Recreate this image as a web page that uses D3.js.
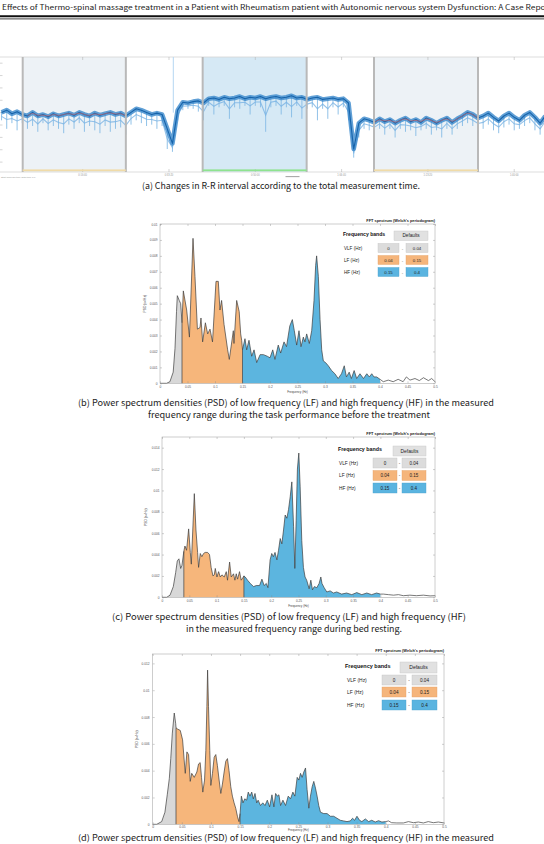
<!DOCTYPE html>
<html><head><meta charset="utf-8">
<script src="https://cdn.jsdelivr.net/npm/d3@7"></script>
<style>body{margin:0;background:#fff}svg{display:block}</style>
</head><body>
<svg id="c" width="544" height="844"></svg>
<script>
// ================= DATA =================
const headerText = "Effects of Thermo-spinal massage treatment in a Patient with Rheumatism patient with Autonomic nervous system Dysfunction: A Case Report";
const captionA = ["(a) Changes in R-R interval according to the total measurement time."];
const captionB = ["(b) Power spectrum densities (PSD) of low frequency (LF) and high frequency (HF) in the measured",
                  "frequency range during the task performance before the treatment"];
const captionC = ["(c) Power spectrum densities (PSD) of low frequency (LF) and high frequency (HF)",
                  "in the measured frequency range during bed resting."];
const captionD = ["(d) Power spectrum densities (PSD) of low frequency (LF) and high frequency (HF) in the measured"];

// Panel (a): R-R interval (ms), one reading per minute
const rrStartTime = 60, rrStep = 60;
const rrCore = [802,820,791,808,785,773,802,773,785,767,791,773,785,796,779,802,785,773,796,779,
  791,802,785,796,773,802,831,820,802,785,796,785,669,552,820,884,878,889,895,878,
  913,918,907,924,913,918,930,913,924,918,930,913,924,930,918,924,936,918,924,907,
  918,924,907,913,918,907,913,878,506,715,750,738,721,750,727,744,715,738,756,727,
  744,721,756,738,715,738,756,721,750,773,802,785,756,773,796,762,733,773,796,762,
  738,779,802,762,715,773];
const rrMin = [738,669,715,657,715,669,692,645,715,657,692,669,634,703,669,715,645,692,657,634,
  692,645,669,680,622,703,738,715,692,703,669,692,506,483,738,820,831,831,808,738,
  855,785,843,855,750,843,831,855,785,855,843,645,843,855,785,843,762,855,750,831,
  843,738,831,750,843,785,843,738,436,599,669,657,645,669,622,669,599,669,645,657,
  611,657,669,622,657,599,669,622,669,692,715,692,669,669,703,657,634,680,703,657,
  669,692,715,657,622,692];
const rrArtifactTime = [2050];
const rrArtifactValue = [1250];
const phaseStart = [305, 2390, 4375];
const phaseEnd = [1500, 3595, 5580];
const phaseKind = ["base", "treat", "base"];
const timeTicks = [1000, 2000, 3000, 4000, 5000, 6000];
const rrTicks = [400, 500, 600, 700, 800, 900, 1000, 1100, 1200];

// Spectra: [frequency Hz, PSD s^2/Hz]
const specB = [[0,0],[0.012,0],[0.018,0.0001],[0.024,0.0007],[0.0273,0.0022],[0.030,0.0045],[0.0315,0.0055],
 [0.035,0.0052],[0.0376,0.0050],[0.04,0.0038],[0.0424,0.0058],[0.0485,0.0046],[0.0535,0.0029],[0.060,0.0091],
 [0.0636,0.0067],[0.068,0.0034],[0.0727,0.0035],[0.0745,0.0041],[0.0775,0.0026],[0.0825,0.0038],[0.0867,0.0031],
 [0.0909,0.0034],[0.0955,0.0026],[0.1018,0.0064],[0.106,0.0064],[0.109,0.0046],[0.112,0.0052],[0.1164,0.0037],
 [0.123,0.0021],[0.126,0.0015],[0.1333,0.0033],[0.1345,0.0025],[0.1394,0.0052],[0.144,0.0045],[0.1467,0.0031],
 [0.1485,0.0027],[0.15,0.0021],[0.1545,0.0028],[0.1576,0.0021],[0.1618,0.0027],[0.1667,0.0017],[0.171,0.0021],
 [0.1758,0.0013],[0.182,0.0018],[0.188,0.0018],[0.195,0.0017],[0.2,0.0016],[0.205,0.0021],[0.209,0.0015],
 [0.215,0.0024],[0.2194,0.0019],[0.2255,0.0026],[0.23,0.0023],[0.236,0.0036],[0.2406,0.0040],[0.2442,0.0033],
 [0.2485,0.0024],[0.2527,0.0033],[0.2564,0.0023],[0.2606,0.0029],[0.2636,0.0026],[0.2667,0.0031],[0.2715,0.0025],
 [0.2758,0.0033],[0.28,0.0052],[0.283,0.0074],[0.2848,0.0080],[0.2879,0.0067],[0.291,0.0040],[0.294,0.0021],
 [0.297,0.0014],[0.301,0.0013],[0.306,0.0011],[0.312,0.0008],[0.318,0.0006],[0.324,0.0003],[0.330,0.0006],
 [0.335,0.0011],[0.339,0.0004],[0.344,0.0007],[0.348,0.0003],[0.353,0.0008],[0.3576,0.0003],[0.3636,0.0006],
 [0.37,0.0003],[0.376,0.0006],[0.3806,0.0004],[0.385,0.0006],[0.389,0.0004],[0.394,0.0004],[0.4,0.00025],
 [0.406,0.0001],[0.415,0.0002],[0.424,0.0001],[0.433,0.00025],[0.442,0.0001],[0.448,0.0004],[0.4545,0.0002],
 [0.4636,0.0003],[0.4715,0.00017],[0.479,0.00035],[0.488,0.00017],[0.494,0.0003],[0.5,0.0001]];
const specC = [[0,0],[0.0086,0],[0.0147,0.0002],[0.0207,0.001],[0.025,0.0023],[0.028,0.0034],[0.031,0.0036],
 [0.0342,0.0027],[0.0366,0.0030],[0.04,0.0043],[0.042,0.0048],[0.045,0.0044],[0.0488,0.0064],[0.0518,0.0042],
 [0.0537,0.0031],[0.0592,0.0097],[0.0622,0.0063],[0.0652,0.0042],[0.067,0.0028],[0.0701,0.0041],[0.073,0.0038],
 [0.0762,0.0041],[0.079,0.0042],[0.0835,0.0042],[0.087,0.0040],[0.090,0.0028],[0.0933,0.0020],[0.0957,0.0021],
 [0.0976,0.0027],[0.1006,0.0019],[0.1037,0.0024],[0.1067,0.0019],[0.1098,0.0021],[0.114,0.0019],[0.1177,0.0024],
 [0.12,0.0016],[0.1238,0.0033],[0.1268,0.0019],[0.131,0.0022],[0.1335,0.0016],[0.136,0.0022],[0.1384,0.0017],
 [0.142,0.0024],[0.145,0.0016],[0.149,0.0019],[0.15,0.0020],[0.1524,0.0019],[0.1567,0.0016],[0.1616,0.0013],
 [0.1677,0.0010],[0.1726,0.0011],[0.1787,0.0011],[0.183,0.0017],[0.187,0.0011],[0.191,0.0013],[0.194,0.0009],
 [0.198,0.0035],[0.201,0.0041],[0.204,0.0038],[0.207,0.0042],[0.2104,0.0035],[0.2134,0.0044],[0.2165,0.0055],
 [0.2195,0.0050],[0.2226,0.0063],[0.2256,0.0077],[0.2287,0.0074],[0.2317,0.0082],[0.2348,0.0094],[0.2378,0.0108],
 [0.241,0.0066],[0.2433,0.0027],[0.2457,0.0072],[0.248,0.0120],[0.2506,0.0135],[0.253,0.0104],[0.256,0.0053],
 [0.259,0.0028],[0.262,0.0019],[0.265,0.0016],[0.2695,0.0008],[0.2726,0.0016],[0.2756,0.0007],[0.279,0.0010],
 [0.2835,0.0009],[0.2878,0.0013],[0.2909,0.0019],[0.293,0.0013],[0.297,0.0009],[0.3018,0.0005],[0.308,0.0006],
 [0.314,0.0004],[0.32,0.0005],[0.329,0.0003],[0.338,0.0004],[0.3476,0.00025],[0.3567,0.00044],[0.366,0.00025],
 [0.375,0.0004],[0.384,0.00025],[0.393,0.0004],[0.4,0.0003],[0.4055,0.0003],[0.4146,0.00025],[0.424,0.0002],
 [0.433,0.00025],[0.442,0.00015],[0.454,0.0002],[0.466,0.00015],[0.4787,0.0002],[0.491,0.00013],[0.5,0.00015]];
const specD = [[0,0],[0.007,0],[0.0154,0.0002],[0.021,0.0009],[0.025,0.0022],[0.0285,0.0034],[0.031,0.0049],
 [0.0337,0.0068],[0.037,0.0083],[0.0395,0.0075],[0.04,0.0072],[0.0428,0.0071],[0.0473,0.0070],[0.0513,0.0063],
 [0.054,0.0048],[0.0559,0.0038],[0.0587,0.0054],[0.0616,0.0052],[0.0644,0.0032],[0.067,0.0038],[0.0713,0.0035],
 [0.0758,0.0039],[0.0787,0.0045],[0.0815,0.0046],[0.0838,0.0035],[0.086,0.0024],[0.089,0.0033],[0.0912,0.0055],
 [0.093,0.0088],[0.0942,0.0115],[0.0958,0.0088],[0.098,0.0055],[0.0998,0.0029],[0.1026,0.0038],[0.1055,0.0050],
 [0.1083,0.0052],[0.111,0.0044],[0.114,0.0033],[0.1169,0.0023],[0.1197,0.0030],[0.1226,0.0039],[0.1254,0.0047],
 [0.1283,0.0049],[0.131,0.0040],[0.134,0.0028],[0.1368,0.0021],[0.1397,0.0016],[0.1425,0.0012],[0.1454,0.0006],
 [0.148,0.0002],[0.15,0.0008],[0.1522,0.0021],[0.155,0.0016],[0.158,0.0019],[0.1613,0.0018],[0.164,0.0024],
 [0.167,0.0021],[0.17,0.0024],[0.1727,0.0019],[0.1756,0.0023],[0.1785,0.0016],[0.181,0.0018],[0.185,0.0014],
 [0.189,0.0016],[0.1927,0.0014],[0.1967,0.0018],[0.2007,0.0013],[0.2047,0.0022],[0.208,0.0013],[0.211,0.0023],
 [0.2138,0.0021],[0.2166,0.0022],[0.2195,0.0014],[0.2235,0.0018],[0.228,0.0014],[0.2326,0.0021],[0.2366,0.0019],
 [0.2406,0.0024],[0.244,0.0021],[0.248,0.0035],[0.2509,0.0033],[0.2537,0.0038],[0.2565,0.0035],[0.2594,0.0039],
 [0.2623,0.0042],[0.265,0.0026],[0.268,0.0012],[0.2708,0.0021],[0.2737,0.0028],[0.2765,0.0032],[0.2794,0.0027],
 [0.2822,0.0021],[0.285,0.0014],[0.288,0.0009],[0.2936,0.0008],[0.2993,0.0008],[0.305,0.0006],[0.3107,0.0006],
 [0.3164,0.00045],[0.322,0.0003],[0.3278,0.00025],[0.3335,0.0002],[0.3392,0.00025],[0.343,0.00045],[0.3466,0.0003],
 [0.3506,0.0006],[0.355,0.0003],[0.359,0.0002],[0.365,0.0004],[0.3706,0.0002],[0.376,0.0003],[0.382,0.00017],
 [0.3877,0.00027],[0.3934,0.00017],[0.4,0.0002],[0.4048,0.00025],[0.41,0.00012],[0.419,0.0001],[0.4304,0.0001],
 [0.439,0.0002],[0.4475,0.00012],[0.456,0.00017],[0.4646,0.0001],[0.473,0.0002],[0.4817,0.00012],[0.4903,0.00017],[0.5,0.0001]];

const bandName = ["VLF (Hz)", "LF (Hz)", "HF (Hz)"];
const bandLo = [0, 0.04, 0.15];
const bandHi = [0.04, 0.15, 0.4];
const bandLoText = ["0", "0.04", "0.15"];
const bandHiText = ["0.04", "0.15", "0.4"];
const freqTicks = [0, 0.05, 0.1, 0.15, 0.2, 0.25, 0.3, 0.35, 0.4, 0.45, 0.5];
const freqTickLabels = ["0", "0.05", "0.1", "0.15", "0.2", "0.25", "0.3", "0.35", "0.4", "0.45", "0.5"];
const psdTicksB = [0, 0.001, 0.002, 0.003, 0.004, 0.005, 0.006, 0.007, 0.008, 0.009, 0.01];
const psdTicksC = [0, 0.002, 0.004, 0.006, 0.008, 0.01, 0.012, 0.014];
const psdTicksD = [0, 0.002, 0.004, 0.006, 0.008, 0.01, 0.012];

// ================= DRAW =================
const svg = d3.select("#c");
const CAP = "'Noto Sans CJK KR','Noto Sans',sans-serif";
const AR = "'Liberation Sans',Arial,sans-serif";

svg.append("text").attr("x", 2).attr("y", 10).attr("font-family", CAP).attr("font-size", 7.4)
  .attr("fill", "#222").attr("textLength", 550).attr("lengthAdjust", "spacingAndGlyphs").text(headerText);
svg.append("line").attr("x1", 0).attr("x2", 544).attr("y1", 16.2).attr("y2", 16.2).attr("stroke", "#111").attr("stroke-width", 2);
svg.append("line").attr("x1", 0).attr("x2", 544).attr("y1", 18.9).attr("y2", 18.9).attr("stroke", "#111").attr("stroke-width", 0.8);

function caption(lines, specs, fs) {
  lines.forEach((t, i) => {
    const s = specs[i];
    svg.append("text").attr("x", s[0]).attr("y", s[2]).attr("font-family", CAP).attr("font-size", fs || 9)
      .attr("fill", "#222").attr("textLength", s[1] - s[0]).attr("lengthAdjust", "spacingAndGlyphs").text(t);
  });
}

// ---------- Panel (a) ----------
(function () {
  const L = 0, R = 544, T = 57, B = 172;
  const tx = d3.scaleLinear().domain([42, 6345]).range([L, R]);
  const ry = d3.scaleLinear().domain([320, 1250]).range([B, T]);
  const g = svg.append("g");
  const clipId = "clipA";
  g.append("clipPath").attr("id", clipId).append("rect").attr("x", L).attr("y", T).attr("width", R - L).attr("height", B - T);
  const phaseFill = { base: "#edf2f6", treat: "#d6e9f5" };
  const barFill = { base: "#f0dba8", treat: "#8fe38f" };
  phaseStart.forEach((s, i) => {
    g.append("rect").attr("x", tx(s)).attr("y", T).attr("width", tx(phaseEnd[i]) - tx(s)).attr("height", B - T)
      .attr("fill", phaseFill[phaseKind[i]]);
  });
  g.append("line").attr("x1", L).attr("x2", R).attr("y1", T).attr("y2", T).attr("stroke", "#d4d4d4").attr("stroke-width", 0.8);
  g.append("line").attr("x1", L).attr("x2", R).attr("y1", B).attr("y2", B).attr("stroke", "#d4d4d4").attr("stroke-width", 0.8);
  timeTicks.forEach(t => {
    g.append("line").attr("x1", tx(t)).attr("x2", tx(t)).attr("y1", T).attr("y2", T + 3).attr("stroke", "#aaa").attr("stroke-width", 0.5);
    g.append("line").attr("x1", tx(t)).attr("x2", tx(t)).attr("y1", B - 3).attr("y2", B).attr("stroke", "#aaa").attr("stroke-width", 0.5);
    const s = Math.round(t), hh = Math.floor(s / 3600), mm = Math.floor((s % 3600) / 60), ss = s % 60;
    g.append("text").attr("x", tx(t)).attr("y", B + 3.6).attr("text-anchor", "middle").attr("font-family", AR)
      .attr("font-size", 2.6).attr("fill", "#999").text(`${hh}:${String(mm).padStart(2, "0")}:${String(ss).padStart(2, "0")}`);
  });
  rrTicks.forEach(v => {
    g.append("line").attr("x1", L).attr("x2", L + 2.5).attr("y1", ry(v)).attr("y2", ry(v)).attr("stroke", "#aaa").attr("stroke-width", 0.5);
  });
  const pts = rrCore.map((v, i) => ({ t: rrStartTime + i * rrStep, v, m: rrMin[i] }));
  const sg = g.append("g").attr("clip-path", `url(#${clipId})`);
  rrArtifactTime.forEach((t, i) => {
    sg.append("line").attr("x1", tx(t)).attr("x2", tx(t)).attr("y1", ry(rrArtifactValue[i])).attr("y2", ry(800))
      .attr("stroke", "#b4d6f2").attr("stroke-width", 1);
  });
  pts.forEach(p => {
    sg.append("line").attr("x1", tx(p.t)).attr("x2", tx(p.t)).attr("y1", ry(p.v)).attr("y2", ry(p.m))
      .attr("stroke", "#86bce6").attr("stroke-width", 1).attr("opacity", 0.9);
  });
  const line = d3.line().x(p => tx(p.t)).y(p => ry(p.v));
  const lowLine = d3.line().x(p => tx(p.t)).y(p => ry((p.v + p.m) / 2));
  sg.append("path").datum(pts).attr("d", lowLine).attr("fill", "none").attr("stroke", "#79b3e3").attr("stroke-width", 1.1).attr("opacity", 0.8);
  sg.append("path").datum(pts).attr("d", line).attr("fill", "none").attr("stroke", "#3a88cc").attr("stroke-width", 4.6).attr("stroke-linejoin", "round").attr("opacity", 0.8);
  sg.append("path").datum(pts).attr("d", line).attr("fill", "none").attr("stroke", "#1663aa").attr("stroke-width", 1.1).attr("stroke-linejoin", "round");
  phaseStart.forEach((s, i) => {
    if (phaseKind[i] !== "base") return;
    const sub = pts.filter(p => p.t >= s && p.t <= phaseEnd[i]);
    sg.append("path").datum(sub).attr("d", d3.line().curve(d3.curveBasis).x(p => tx(p.t)).y(p => ry(p.v)))
      .attr("fill", "none").attr("stroke", "#d66a6a").attr("stroke-width", 0.8).attr("opacity", 0.8);
  });
  phaseStart.forEach((s, i) => {
    [s, phaseEnd[i]].forEach(t => g.append("line").attr("x1", tx(t)).attr("x2", tx(t)).attr("y1", T).attr("y2", B)
      .attr("stroke", "#b9b9b9").attr("stroke-width", 2));
    g.append("rect").attr("x", tx(s)).attr("y", B - 2.6).attr("width", tx(phaseEnd[i]) - tx(s)).attr("height", 1.8)
      .attr("fill", barFill[phaseKind[i]]);
  });
  g.append("text").attr("x", 1).attr("y", B + 5.5).attr("font-family", AR).attr("font-size", 2.4).attr("fill", "#999")
    .text("Start analysis time   Total time   1:0");
  g.append("rect").attr("x", tx(3350)).attr("y", B + 4.3).attr("width", 14).attr("height", 0.8).attr("fill", "#888");
  caption(captionA, [[142, 420, 189]]);
})();

// ---------- Spectrum panels ----------
const bandFill = ["#d8d8d8", "#f6b67b", "#5cb5df"];
const boxFill = ["#dcdcdc", "#f5b57b", "#5ab4e0"];
const boxStroke = ["#c2c2c2", "#e3a066", "#4aa0cc"];

function spectrum(cfg, data, yTicks) {
  const xs = d3.scaleLinear().domain([0, 0.5]).range([cfg.l, cfg.r]);
  const ys = d3.scaleLinear().domain([0, cfg.yMax]).range([cfg.b, cfg.t]);
  const g = svg.append("g");
  g.append("rect").attr("x", cfg.l).attr("y", cfg.t).attr("width", cfg.r - cfg.l).attr("height", cfg.b - cfg.t).attr("fill", "#fff");
  const pts = data.map(d => ({ f: d[0], v: d[1] }));
  bandLo.forEach((lo, i) => {
    const hi = bandHi[i];
    const sub = pts.filter(p => p.f >= lo - 1e-9 && p.f <= hi + 1e-9);
    g.append("path").datum(sub).attr("d", d3.area().x(p => xs(p.f)).y0(ys(0)).y1(p => ys(p.v))).attr("fill", bandFill[i]);
  });
  [0.04, 0.15].forEach(f => {
    const p = pts.find(q => Math.abs(q.f - f) < 1e-9);
    g.append("line").attr("x1", xs(f)).attr("x2", xs(f)).attr("y1", ys(0)).attr("y2", ys(p.v)).attr("stroke", "#3e3e3e").attr("stroke-width", 0.7);
  });
  g.append("path").datum(pts).attr("d", d3.line().x(p => xs(p.f)).y(p => ys(p.v))).attr("fill", "none")
    .attr("stroke", "#3e3e3e").attr("stroke-width", 0.7).attr("stroke-linejoin", "round");

  const styleAxis = (sel) => {
    sel.select(".domain").remove();
    sel.selectAll(".tick line").attr("stroke", "#888").attr("stroke-width", 0.4);
    sel.selectAll(".tick text").attr("font-size", 3.2).attr("fill", "#555").attr("font-family", AR);
  };
  const fx = d => freqTickLabels[freqTicks.indexOf(d)];
  g.append("g").attr("transform", `translate(0,${cfg.b})`)
    .call(d3.axisBottom(xs).tickValues(freqTicks).tickSizeInner(-2).tickSizeOuter(0).tickPadding(cfg.xPad).tickFormat(fx)).call(styleAxis);
  g.append("g").attr("transform", `translate(0,${cfg.t})`)
    .call(d3.axisTop(xs).tickValues(freqTicks).tickSizeInner(-2).tickSizeOuter(0).tickFormat("")).call(styleAxis);
  g.append("g").attr("transform", `translate(${cfg.l},0)`)
    .call(d3.axisLeft(ys).tickValues(yTicks).tickSizeInner(-2).tickSizeOuter(0).tickPadding(cfg.yPad).tickFormat(d => d3.format("~g")(+d.toFixed(4)))).call(styleAxis);
  g.append("g").attr("transform", `translate(${cfg.r},0)`)
    .call(d3.axisRight(ys).tickValues(yTicks).tickSizeInner(-2).tickSizeOuter(0).tickFormat("")).call(styleAxis);
  g.append("rect").attr("x", cfg.l).attr("y", cfg.t).attr("width", cfg.r - cfg.l).attr("height", cfg.b - cfg.t)
    .attr("fill", "none").attr("stroke", "#9c9c9c").attr("stroke-width", 0.5);

  g.append("text").attr("x", cfg.r).attr("y", cfg.t - 1.6).attr("text-anchor", "end").attr("font-family", AR)
    .attr("font-size", 3.9).attr("font-weight", "bold").attr("fill", "#222").text("FFT spectrum (Welch's periodogram)");
  g.append("text").attr("x", (cfg.l + cfg.r) / 2).attr("y", cfg.b + cfg.xlOff).attr("text-anchor", "middle").attr("font-family", AR)
    .attr("font-size", 3.0).attr("fill", "#444").text("Frequency (Hz)");
  g.append("text").attr("transform", `translate(${cfg.ylx},${(cfg.t + cfg.b) / 2}) rotate(-90)`).attr("text-anchor", "middle")
    .attr("font-family", AR).attr("font-size", 3.3).attr("fill", "#444").text("PSD (s\u00B2/Hz)");

  const lg = cfg.leg;
  g.append("text").attr("x", lg.fbX).attr("y", lg.fbY).attr("font-family", AR).attr("font-size", lg.fs)
    .attr("font-weight", "bold").attr("fill", "#111").text("Frequency bands");
  g.append("rect").attr("x", lg.def[0]).attr("y", lg.def[2]).attr("width", lg.def[1] - lg.def[0]).attr("height", lg.def[3] - lg.def[2])
    .attr("fill", "#e1e1e1").attr("stroke", "#c4c4c4").attr("stroke-width", 0.4);
  g.append("text").attr("x", (lg.def[0] + lg.def[1]) / 2).attr("y", (lg.def[2] + lg.def[3]) / 2 + lg.fs * 0.34)
    .attr("text-anchor", "middle").attr("font-family", AR).attr("font-size", lg.fs * 0.92).attr("fill", "#222").text("Defaults");
  bandName.forEach((nm, i) => {
    const cy = lg.rows[i];
    g.append("text").attr("x", lg.labX).attr("y", cy + lg.fs * 0.34).attr("font-family", AR).attr("font-size", lg.fs * 0.9)
      .attr("fill", "#222").text(nm);
    [[lg.b1, bandLoText[i]], [lg.b2, bandHiText[i]]].forEach(([bx, txt]) => {
      g.append("rect").attr("x", bx[0]).attr("y", cy - lg.bh / 2).attr("width", bx[1] - bx[0]).attr("height", lg.bh)
        .attr("fill", boxFill[i]).attr("stroke", boxStroke[i]).attr("stroke-width", 0.4);
      g.append("text").attr("x", (bx[0] + bx[1]) / 2).attr("y", cy + lg.fs * 0.32).attr("text-anchor", "middle")
        .attr("font-family", AR).attr("font-size", lg.fs * 0.85).attr("fill", "#222").text(txt);
    });
    g.append("text").attr("x", lg.dash).attr("y", cy + lg.fs * 0.3).attr("text-anchor", "middle").attr("font-family", AR)
      .attr("font-size", lg.fs * 0.85).attr("fill", "#333").text("-");
  });
}

spectrum({ l: 160, r: 435, t: 224, b: 383.3, yMax: 0.01, yPad: 2.4, xPad: 2.4, ylx: 146, xlOff: 9.2,
  leg: { fbX: 343, fbY: 236, def: [394, 428, 231, 240.5], rows: [248, 260, 272], labX: 344, b1: [378, 399], dash: 402.5, b2: [406, 428], bh: 9, fs: 5.1 } },
  specB, psdTicksB);
caption(captionB, [[78, 494, 406], [148, 430, 418]]);

spectrum({ l: 162, r: 435, t: 437, b: 597.3, yMax: 0.015, yPad: 2.4, xPad: 2.4, ylx: 147, xlOff: 9.2,
  leg: { fbX: 338, fbY: 451, def: [393, 426, 446, 456], rows: [463, 475.5, 488], labX: 339, b1: [373, 397], dash: 399.5, b2: [402, 426], bh: 10, fs: 5.3 } },
  specC, psdTicksC);
caption(captionC, [[112, 466, 620], [186, 402, 632]]);

spectrum({ l: 152.7, r: 444, t: 654, b: 824.3, yMax: 0.0127, yPad: 3.2, xPad: 1.8, ylx: 137.5, xlOff: 6.6,
  leg: { fbX: 345, fbY: 668, def: [400, 437, 662, 673], rows: [680, 692, 705], labX: 347, b1: [382, 406], dash: 409, b2: [412, 437], bh: 10, fs: 5.5 } },
  specD, psdTicksD);
caption(captionD, [[78, 494, 841.4]], 8.4);
</script>
</body></html>
